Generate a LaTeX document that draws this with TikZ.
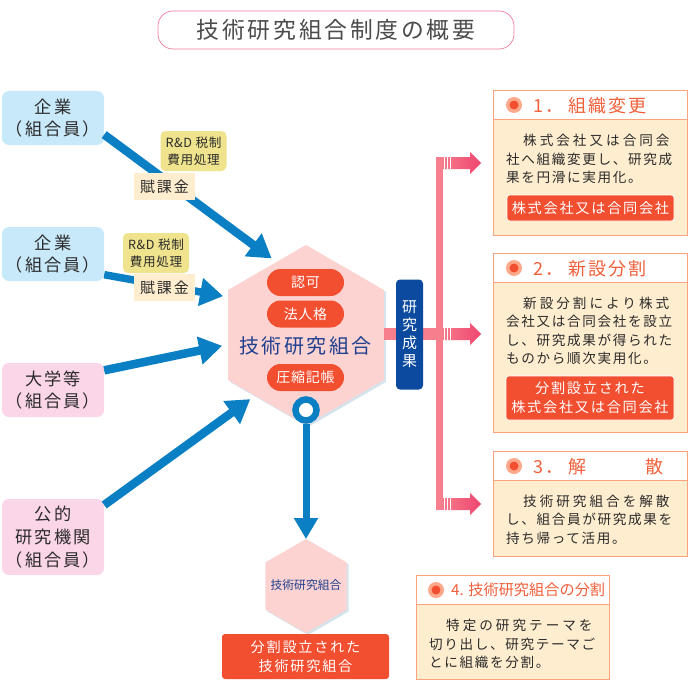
\documentclass[tikz,border=0pt]{standalone}
\usepackage{fontspec}
\usetikzlibrary{arrows.meta,shapes.geometric}
\setmainfont{Noto Sans CJK JP}
\newfontfamily\jpa[LetterSpace=5]{Noto Sans CJK JP}
\newfontfamily\jpb[LetterSpace=12]{Noto Sans CJK JP}
\newfontfamily\jpc[LetterSpace=22]{Noto Sans CJK JP}
\definecolor{arrowblue}{HTML}{0A7FC4}
\definecolor{skybox}{HTML}{C8E9FA}
\definecolor{pinkbox}{HTML}{FBD5E8}
\definecolor{yellowbox}{HTML}{EFE38D}
\definecolor{wheatbox}{HTML}{FFEDCF}
\definecolor{redbox}{HTML}{F24E30}
\definecolor{hexpink}{HTML}{FCD3D1}
\definecolor{hexshadow}{HTML}{D5E3EC}
\definecolor{navytext}{HTML}{1F3F8F}
\definecolor{navybox}{HTML}{0B4A9E}
\definecolor{buspink}{HTML}{F77F8D}
\definecolor{headpink}{HTML}{EE4570}
\definecolor{edgeorange}{HTML}{FBA27E}
\definecolor{headorange}{HTML}{F0603A}
\definecolor{dotlight}{HTML}{FFA98C}
\definecolor{inkgray}{HTML}{2B2B2B}
\tikzset{
  x=1pt,y=-1pt,
  member/.style={rounded corners=7pt,minimum width=102pt,inner sep=0pt,align=center,
    font=\fontsize{17.2}{22}\jpb,text=inkgray},
  skymember/.style={member,fill=skybox,minimum height=54pt},
  pinkmember/.style={member,fill=pinkbox},
  taxnote/.style={fill=yellowbox,rounded corners=5pt,minimum width=66pt,minimum height=40pt,inner sep=0pt,
    align=center,font=\fontsize{12.6}{17.5}\jpa,text=inkgray},
  levy/.style={fill=wheatbox,minimum width=61pt,minimum height=27pt,inner sep=0pt,
    font=\fontsize{15}{18}\jpb,text=inkgray},
  feed/.style={draw=arrowblue,line width=8.5pt,-{Triangle[length=23pt,width=27pt]}},
  bighex/.style={regular polygon,regular polygon sides=6,shape border rotate=30,inner sep=0pt,outer sep=0pt,minimum size=180pt},
  smallhex/.style={regular polygon,regular polygon sides=6,shape border rotate=30,inner sep=0pt,outer sep=0pt,minimum size=94pt},
  pill/.style={fill=redbox,rounded corners=13.5pt,minimum width=77pt,minimum height=27pt,inner sep=0pt,
    text=white,font=\fontsize{14}{16}\jpa},
  bus/.style={draw=buspink,line width=7pt},
  outcome/.style={draw=edgeorange,fill=wheatbox,line width=0.9pt,inner sep=0pt,anchor=north west},
  headband/.style={draw=edgeorange,fill=white,line width=0.9pt,inner sep=0pt,anchor=north west},
  bodytext/.style={anchor=north west,inner sep=0pt,align=left,text=inkgray,font=\fontsize{13.6}{18.6}\jpb},
  headtext/.style={anchor=west,inner sep=0pt,text=headorange,font=\fontsize{18}{20}\jpb},
  redbar/.style={fill=redbox,draw=white,line width=0.6pt,rounded corners=3pt,inner sep=0pt,text=white,align=center,
    font=\fontsize{14.2}{19}\jpb},
  dotouter/.style={circle,fill=dotlight,minimum size=16pt,inner sep=0pt},
  dotinner/.style={circle,fill=redbox,minimum size=9pt,inner sep=0pt},
}
\newcommand{\pinkarrow}[2]{%
  \shade[left color=buspink,right color=headpink] (#1)++(4,-6) -- ++(27,0) -- ++(0,-5) -- ++(11,11) -- ++(-11,11) -- ++(0,-5) -- ++(-27,0) -- cycle;
  \fill[white] (#1)++(5,-6) rectangle ++(1,12);
  \fill[white] (#1)++(8,-6) rectangle ++(1,12);
  \fill[white] (#1)++(11,-6) rectangle ++(1,12);
}
\begin{document}
\begin{tikzpicture}
\useasboundingbox (0,0) rectangle (690,690);
\fill[white] (0,0) rectangle (690,690);

% title
\node[draw=headpink!70,fill=white,line width=0.7pt,rounded corners=15pt,minimum width=356pt,minimum height=38pt,inner sep=0pt,
  font=\fontsize{22.8}{24}\jpb,text=inkgray!85] (title) at (336,30) {技術研究組合制度の概要};

% members
\node[skymember] (firm1) at (53,118) {企業\\（組合員）};
\node[skymember] (firm2) at (53,254) {企業\\（組合員）};
\node[pinkmember,minimum height=54pt] (univ) at (53,390) {大学等\\（組合員）};
\node[pinkmember,minimum height=76pt,font=\fontsize{17.2}{23}\jpb] (inst) at (53,537) {公的\\研究機関\\（組合員）};

% central hexagons
\node[bighex,fill=hexshadow] (hexshade) at (308,337) {};
\node[smallhex,fill=hexshadow] (subshade) at (308,588) {};
\node[bighex,fill=hexpink] (hex) at (306,335) {};
\node[smallhex,fill=hexpink] (subhex) at (306,586) {};
\node[inner sep=0pt,font=\fontsize{11.8}{13}\selectfont,text=navytext] (sublabel) at (306,585) {技術研究組合};

% blue feeds
\draw[feed,shorten >=6pt] (firm1.-18) -- (hex.112);
\draw[feed,line width=7.5pt,shorten >=5pt] (firm2.-22) -- (hex.154);
\draw[feed,shorten >=6pt] (univ.21) -- (hex.187);
\draw[feed,shorten >=6pt] (inst.32) -- (hex.230);

% notes
\node[taxnote] (note1) at (193.5,151) {R\&D 税制\\費用処理};
\node[levy] (levy1) at (164.5,186.5) {賦課金};
\node[taxnote] (note2) at (156,253) {R\&D 税制\\費用処理};
\node[levy] (levy2) at (164.5,287.5) {賦課金};

% hexagon contents
\node[pill] (pa) at (305.5,282.5) {認可};
\node[pill] (pb) at (305.5,314) {法人格};
\node[inner sep=0pt,text=navytext,font=\fontsize{20}{24}\jpb] (main) at (305.5,346) {技術研究組合};
\node[pill] (pc) at (305.5,377.5) {圧縮記帳};

% down arrow and ring
\node[circle,draw=arrowblue,fill=white,line width=6.5pt,minimum size=21pt,inner sep=0pt] (ring) at (306,410) {};
\draw[draw=arrowblue,line width=7pt,-{Triangle[length=21pt,width=23pt]}] (ring.south) -- (subhex.90);

% bus
\coordinate (busT) at (439,157);
\coordinate (busA) at (439,163);
\coordinate (busB) at (439,334);
\coordinate (busC) at (439,504);
\coordinate (busE) at (439,510);
\draw[bus] (busT) -- (busE);
\draw[draw=buspink,line width=12pt] (hex.east |- busB) -- (busB);
\pinkarrow{busA}{}
\pinkarrow{busB}{}
\pinkarrow{busC}{}
\node[fill=navybox,rounded corners=4pt,minimum width=27pt,minimum height=110pt,inner sep=0pt,align=center,text=white,
  font=\fontsize{15}{18}\selectfont] (result) at (409.5,334.5) {研\\究\\成\\果};

% outcome 1
\node[outcome,minimum width=194pt,minimum height=145pt] (box1) at (493,90) {};
\node[headband,minimum width=194pt,minimum height=29pt] (band1) at (493,90) {};
\node[dotouter] (d1o) at (514,105) {}; \node[dotinner] (d1i) at (514,105) {};
\node[headtext] (h1n) at (533,106) {1．};
\node[headtext] (h1) at (568,106) {組織変更};
\node[bodytext] (t1) at (506,134) {\hspace*{17pt}{\jpc 株式会社又は合同会}\\社へ組織変更し、研究成\\果を円滑に実用化。};
\node[redbar,minimum width=167pt,minimum height=26pt] (r1) at (590.5,208) {株式会社又は合同会社};

% outcome 2
\node[outcome,minimum width=194pt,minimum height=179pt] (box2) at (493,253) {};
\node[headband,minimum width=194pt,minimum height=29pt] (band2) at (493,253) {};
\node[dotouter] (d2o) at (514,268) {}; \node[dotinner] (d2i) at (514,268) {};
\node[headtext] (h2n) at (533,269) {2．};
\node[headtext] (h2) at (568,269) {新設分割};
\node[bodytext] (t2) at (506,296.5) {\hspace*{17pt}{\jpc 新設分割により株式}\\会社又は合同会社を設立\\し、研究成果が得られた\\ものから順次実用化。};
\node[redbar,minimum width=168pt,minimum height=44pt] (r2) at (590,398) {分割設立された\\株式会社又は合同会社};

% outcome 3
\node[outcome,minimum width=194pt,minimum height=105pt] (box3) at (493,451) {};
\node[headband,minimum width=194pt,minimum height=29pt] (band3) at (493,451) {};
\node[dotouter] (d3o) at (514,466) {}; \node[dotinner] (d3i) at (514,466) {};
\node[headtext] (h3n) at (533,467) {3．};
\node[headtext] (h3a) at (568,467) {解};
\node[headtext] (h3b) at (645,467) {散};
\node[bodytext] (t3) at (506,494.5) {\hspace*{17pt}{\jpc 技術研究組合を解散}\\し、組合員が研究成果を\\持ち帰って活用。};

% outcome 4
\node[outcome,minimum width=193pt,minimum height=104pt] (box4) at (416,575) {};
\node[headband,minimum width=193pt,minimum height=29pt] (band4) at (416,575) {};
\node[dotouter] (d4o) at (436,590) {}; \node[dotinner] (d4i) at (436,590) {};
\node[anchor=west,inner sep=0pt,text=headorange,font=\fontsize{15.2}{18}\selectfont] (h4) at (451,590) {4. 技術研究組合の分割};
\node[bodytext] (t4) at (429,619) {\hspace*{17pt}{\jpc 特定の研究テーマを}\\切り出し、研究テーマご\\とに組織を分割。};

% bottom bar
\node[redbar,draw=none,minimum width=167pt,minimum height=45pt] (r4) at (305.5,656.5) {分割設立された\\技術研究組合};
\end{tikzpicture}
\end{document}
